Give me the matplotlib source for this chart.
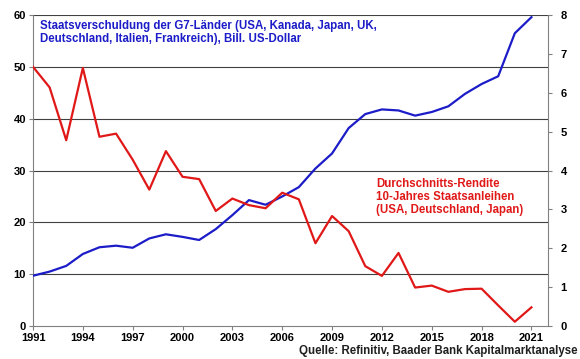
import matplotlib
matplotlib.use('agg')
import numpy as np
import matplotlib.pyplot as plt

plt.rcParams['font.family'] = ['Liberation Sans', 'DejaVu Sans']

years = list(range(1991, 2022))
debt = [9.7, 10.5, 11.6, 13.9, 15.2, 15.5, 15.1, 16.9, 17.7, 17.2,
        16.6, 18.7, 21.4, 24.3, 23.4, 25.0, 26.8, 30.4, 33.3, 38.2,
        40.9, 41.8, 41.6, 40.6, 41.3, 42.4, 44.8, 46.7, 48.2, 56.5, 59.6]
yields = [6.67, 6.14, 4.78, 6.64, 4.87, 4.95, 4.28, 3.51, 4.50, 3.84,
          3.78, 2.96, 3.28, 3.11, 3.03, 3.43, 3.26, 2.13, 2.83, 2.44,
          1.54, 1.29, 1.88, 0.99, 1.04, 0.88, 0.95, 0.96, 0.53, 0.11, 0.48]
xticks = list(range(1991, 2022, 3))

blue = '#1c1cc8'
red = '#e01818'
grey = '#808080'

fig = plt.figure(figsize=(5.8, 3.59), dpi=100)
ax1 = fig.add_axes([0.0569, 0.0919, 0.888, 0.866])
ax2 = ax1.twinx()

ax1.set_xlim(1991, 2022)
ax1.set_ylim(0, 60)
ax2.set_ylim(0, 8)
ax1.set_xticks(xticks)
ax1.set_yticks(range(0, 61, 10))
ax2.set_yticks(range(0, 9))

for y in range(10, 61, 10):
    ax1.axhline(y, color='#404040', linewidth=0.8, zorder=0)

ax1.plot(years, debt, color=blue, linewidth=1.6, zorder=3)
ax2.plot(years, yields, color=red, linewidth=1.6, zorder=3)

for ax in (ax1, ax2):
    for s in ax.spines.values():
        s.set_visible(False)
    ax.tick_params(labelsize=8, length=3, color=grey, pad=2)
    for lab in ax.get_xticklabels() + ax.get_yticklabels():
        lab.set_fontweight('bold')
ax1.spines['left'].set_visible(True)
ax1.spines['left'].set_color(grey)
ax1.spines['bottom'].set_visible(True)
ax1.spines['bottom'].set_color(grey)
ax2.spines['right'].set_visible(True)
ax2.spines['right'].set_color(grey)
ax2.tick_params(axis='y', pad=6)

fig.text(0.069, 0.945, 'Staatsverschuldung der G7-Länder (USA, Kanada, Japan, UK,\n'
         'Deutschland, Italien, Frankreich), Bill. US-Dollar',
         color=blue, fontsize=8.3, fontweight='bold', va='top', ha='left',
         linespacing=1.15)
fig.text(0.648, 0.505, 'Durchschnitts-Rendite\n10-Jahres Staatsanleihen\n(USA, Deutschland, Japan)',
         color=red, fontsize=8.3, fontweight='bold', va='top', ha='left',
         linespacing=1.15)
fig.text(0.995, 0.005, 'Quelle: Refinitiv, Baader Bank Kapitalmarktanalyse',
         color='#202020', fontsize=8.3, fontweight='bold', va='bottom', ha='right')

fig.savefig('out.png', dpi=100)
